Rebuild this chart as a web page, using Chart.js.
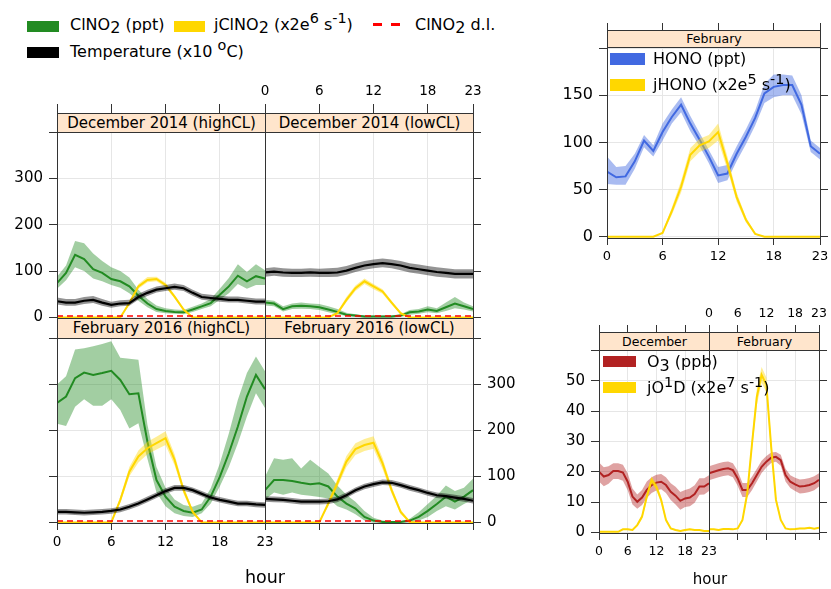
<!DOCTYPE html>
<html>
<head>
<meta charset="utf-8">
<title>ClNO2, HONO and O3 diurnal profiles</title>
<script src="https://cdn.jsdelivr.net/npm/chart.js@4.4.1/dist/chart.umd.min.js"></script>
<style>
html,body{margin:0;padding:0;background:#fff;}
#stage{position:relative;width:831px;height:589px;overflow:hidden;font-family:"DejaVu Sans",sans-serif;color:#000;}
#stage canvas{position:absolute;}
.strip{position:absolute;box-sizing:border-box;background:#ffe5cc;border:1px solid #333;text-align:center;white-space:nowrap;z-index:5;overflow:hidden;}
.sw{position:absolute;z-index:6;}
.lt{position:absolute;z-index:6;white-space:nowrap;line-height:1;font-size:16px;}
.sb{position:relative;top:0.22em;}
.sp{position:relative;top:-0.42em;font-size:90%;}
.ax{position:absolute;z-index:6;white-space:nowrap;line-height:1;transform:translateX(-50%);}
</style>
</head>
<body>
<div id="stage">
  <!-- top legend -->
  <div class="sw" style="left:27px;top:21px;width:32px;height:11px;background:#228B22"></div>
  <div class="lt" style="left:70px;top:16.5px">ClNO<span class="sb">2</span> (ppt)</div>
  <div class="sw" style="left:174px;top:21px;width:31px;height:11px;background:#FFD700"></div>
  <div class="lt" style="left:214px;top:16.5px">jClNO<span class="sb">2</span> (x2e<span class="sp">6</span> s<span class="sp">-1</span>)</div>
  <div class="sw" style="left:373px;top:23px;width:9px;height:3px;background:#FF0000"></div>
  <div class="sw" style="left:391px;top:23px;width:9px;height:3px;background:#FF0000"></div>
  <div class="lt" style="left:415px;top:16.5px">ClNO<span class="sb">2</span> d.l.</div>
  <div class="sw" style="left:27px;top:47px;width:32px;height:11px;background:#000"></div>
  <div class="lt" style="left:70px;top:43.5px">Temperature (x10 <span class="sp">o</span>C)</div>

  <!-- HONO legend -->
  <div class="sw" style="left:610px;top:53px;width:35px;height:12px;background:#4169E1"></div>
  <div class="lt" style="left:653px;top:51px">HONO (ppt)</div>
  <div class="sw" style="left:610px;top:79px;width:35px;height:12px;background:#FFD700"></div>
  <div class="lt" style="left:653px;top:77px">jHONO (x2e<span class="sp">5</span> s<span class="sp">-1</span>)</div>

  <!-- O3 legend -->
  <div class="sw" style="left:603px;top:356px;width:33px;height:11px;background:#B22222"></div>
  <div class="lt" style="left:647px;top:354px">O<span class="sb">3</span> (ppb)</div>
  <div class="sw" style="left:603px;top:382px;width:33px;height:11px;background:#FFD700"></div>
  <div class="lt" style="left:647px;top:380px">jO<span class="sp">1</span>D (x2e<span class="sp">7</span> s<span class="sp">-1</span>)</div>

  <div class="ax" style="left:265px;top:569px;font-size:17.5px">hour</div>
  <div class="ax" style="left:710px;top:572px;font-size:15px">hour</div>
</div>
<script>
// ---------------- data ----------------
const hours = [0,1,2,3,4,5,6,7,8,9,10,11,12,13,14,15,16,17,18,19,20,21,22,23];
const hourTicks = [0,6,12,18,23];
const clno2Ticks = [0,100,200,300,400];
const honoTicks = [0,50,100,150,200];
const o3Ticks = [0,10,20,30,40,50,60];
const clno2DL = 3;
const panelNames = ['December 2014 (highCL)','December 2014 (lowCL)','February 2016 (highCL)','February 2016 (lowCL)'];
const monthNames = ['December','February'];

// December 2014 (highCL)
const decHighClno2   = [74,96,135,126,104,96,83,78,67,47,30,18,14,12,11,17,24,31,49,67,90,78,89,84];
const decHighClno2Hi = [88,112,165,160,138,122,108,100,86,60,40,26,20,17,16,23,30,40,62,85,115,98,115,102];
const decHighClno2Lo = [62,80,108,100,84,78,70,64,52,36,22,12,9,8,7,12,18,24,38,52,72,62,70,70];
const decHighJ   = [0,0,0,0,0,0,0,0,31,67,81,83,70,45,17,0,0,0,0,0,0,0,0,0];
const decHighJHi = [0,0,0,0,0,0,0,1,35,72,87,88,75,49,20,1,0,0,0,0,0,0,0,0];
const decHighJLo = [0,0,0,0,0,0,0,0,27,62,76,78,65,41,14,0,0,0,0,0,0,0,0,0];
const decHighT   = [35,32,32,36,38,32,27,30,31,44,53,60,63,66,63,53,44,42,40,38,38,36,34,34];
const decHighTHi = [43,40,40,44,46,40,34,37,38,51,60,67,70,73,70,60,51,49,47,45,45,43,41,41];
const decHighTLo = [28,25,25,29,31,25,21,24,25,38,46,54,57,60,57,47,38,36,34,32,32,30,28,28];

// December 2014 (lowCL)
const decLowClno2   = [32,30,18,24,25,24,22,17,12,6,4,2,2,2,2,4,11,13,17,14,22,30,24,18];
const decLowClno2Hi = [38,36,24,30,32,30,29,24,18,10,7,4,4,4,4,7,16,18,24,20,32,44,32,24];
const decLowClno2Lo = [26,24,13,18,19,18,16,11,7,3,1,0,0,0,0,1,6,8,11,9,14,20,17,13];
const decLowJ   = [0,0,0,0,0,0,0,0,9,38,63,78,67,56,32,9,0,0,0,0,0,0,0,0];
const decLowJHi = [0,0,0,0,0,0,0,1,12,44,69,84,72,61,36,12,1,0,0,0,0,0,0,0];
const decLowJLo = [0,0,0,0,0,0,0,0,6,33,57,72,61,51,28,6,0,0,0,0,0,0,0,0];
const decLowT   = [97,99,97,96,96,97,96,96,97,101,107,112,115,117,115,112,107,104,101,98,96,94,94,94];
const decLowTHi = [106,108,106,105,105,106,105,106,107,111,117,122,125,127,125,122,117,114,111,108,106,104,104,104];
const decLowTLo = [88,90,88,87,87,88,87,87,88,92,98,103,106,108,106,102,97,94,91,88,86,84,84,84];

// February 2016 (highCL)
const febHighClno2   = [259,273,313,325,320,324,329,309,278,280,175,92,56,34,25,21,28,56,99,150,208,273,320,289];
const febHighClno2Hi = [299,317,375,378,382,387,393,357,355,353,212,120,75,50,38,34,41,74,128,193,266,324,360,328];
const febHighClno2Lo = [214,209,251,267,253,253,267,244,204,215,138,65,35,20,14,12,20,41,78,120,172,230,280,248];
const febHighJ   = [0,0,0,0,0,0,0,49,110,143,161,172,183,136,70,23,0,0,0,0,0,0,0,0];
const febHighJHi = [0,0,0,0,0,0,1,56,120,156,175,186,198,148,78,28,1,0,0,0,0,0,0,0];
const febHighJLo = [0,0,0,0,0,0,0,42,100,130,148,158,168,124,62,18,0,0,0,0,0,0,0,0];
const febHighT   = [23,23,22,21,22,23,25,28,34,41,50,59,68,75,75,70,62,54,49,45,41,41,39,38];
const febHighTHi = [29,29,28,27,28,29,31,34,40,47,56,65,74,81,81,76,68,60,55,51,47,47,45,44];
const febHighTLo = [17,17,16,15,16,17,19,22,28,35,44,53,62,69,69,64,56,48,43,39,35,35,33,32];

// February 2016 (lowCL)
const febLowClno2   = [70,92,92,90,86,83,85,78,56,41,30,12,4,1,1,1,4,12,25,40,56,45,56,70];
const febLowClno2Hi = [99,139,136,139,117,136,121,106,80,60,45,25,10,4,3,3,8,22,40,58,80,68,75,95];
const febLowClno2Lo = [50,65,60,65,60,58,55,52,35,28,18,4,0,0,0,0,0,4,12,25,35,28,40,50];
const febLowJ   = [0,0,0,0,0,0,0,41,85,132,159,168,173,128,70,23,1,0,0,0,0,0,0,0];
const febLowJHi = [0,0,0,0,0,0,1,47,94,144,172,181,187,140,78,28,2,0,0,0,0,0,0,0];
const febLowJLo = [0,0,0,0,0,0,0,35,76,120,146,155,160,116,62,18,0,0,0,0,0,0,0,0];
const febLowT   = [51,50,49,47,45,45,45,46,50,59,70,78,83,87,86,81,75,70,64,59,57,54,51,47];
const febLowTHi = [57,56,55,53,51,51,51,52,56,65,76,84,89,93,92,87,81,76,70,65,63,60,57,53];
const febLowTLo = [45,44,43,41,39,39,39,40,44,53,64,72,77,81,80,75,69,64,58,53,51,48,45,41];

// HONO, February
const hono   = [69,63,64,80,102,91,111,127,140,120,103,85,65,67,88,106,126,152,159,161,161,140,96,88];
const honoHi = [85,74,75,88,108,97,120,135,148,128,110,92,74,76,96,114,134,162,172,172,171,150,102,94];
const honoLo = [56,55,55,72,95,85,102,120,132,112,96,78,57,60,80,98,118,142,148,150,150,130,90,82];
const jHono   = [0,0,0,0,0,0,4,27,53,87,97,101,111,78,42,18,3,0,0,0,0,0,0,0];
const jHonoHi = [0,0,0,0,0,0,5,31,59,94,104,108,120,85,47,21,4,0,0,0,0,0,0,0];
const jHonoLo = [0,0,0,0,0,0,3,23,47,80,90,94,102,71,37,15,2,0,0,0,0,0,0,0];

// O3 and jO1D
const o3Dec   = [20,18.4,18.9,20.2,20.2,19.7,16.7,11.8,10.1,11.5,14,15.6,16.4,16.7,15.6,13.4,12.1,10.4,11.2,11.5,12.6,15.1,15.1,16.2];
const o3DecHi = [23,21.5,21.8,22.8,22.8,22.3,19.5,14.5,12.5,14,16.8,18.2,19,19.2,18.2,16.2,15,13.3,14,14.5,15.5,17.8,17.8,18.8];
const o3DecLo = [16.8,15.2,16,17.6,17.6,17,13.9,9.2,7.8,9,11.3,13,13.8,14.2,13,10.7,9.2,7.5,8.4,8.6,9.8,12.4,12.5,13.6];
const jo1dDec   = [0.2,0.2,0.2,0.2,0.2,1,1,0.8,2.4,5.2,11.8,17.3,15,10.7,4.1,1.3,0.8,0.5,0.8,1,0.8,0.8,0.5,0.5];
const jo1dDecHi = [0.3,0.3,0.3,0.3,0.3,1.2,1.2,1,2.8,6,13,18.5,16.2,11.8,4.8,1.6,1,0.7,1,1.2,1,1,0.7,0.7];
const jo1dDecLo = [0.1,0.1,0.1,0.1,0.1,0.8,0.8,0.6,2,4.4,10.6,16.1,13.8,9.6,3.4,1,0.6,0.3,0.6,0.8,0.6,0.6,0.3,0.3];
const o3Feb   = [19.5,20,20.5,20.9,21.1,20.5,17.8,14,14,16.2,18.9,21.6,23.3,24.6,24.9,23.8,18.9,16.7,15.8,15.1,15.3,15.6,16.2,17.3];
const o3FebHi = [21.8,22.3,22.8,23.2,23.4,22.8,20.2,16.3,16.3,18.4,21,23.6,25.2,26.3,26.5,25.6,21,18.8,18,17.4,17.6,17.9,18.5,19.5];
const o3FebLo = [17.2,17.7,18.2,18.6,18.8,18.2,15.4,11.7,11.7,14,16.8,19.6,21.4,22.9,23.3,22,16.8,14.6,13.6,12.8,13,13.3,13.9,15.1];
const jo1dFeb   = [1,1,0.8,1.1,1.1,1,1.3,4.1,12.9,29.3,44.7,51.9,48.6,28.2,10.7,4.1,1.3,1,1.1,1.3,1.3,1.5,1.2,1.5];
const jo1dFebHi = [1.2,1.2,1,1.3,1.3,1.2,1.5,4.6,14.2,31.5,47.5,54.5,51,30.5,11.8,4.6,1.5,1.2,1.3,1.5,1.5,1.7,1.4,1.7];
const jo1dFebLo = [0.8,0.8,0.6,0.9,0.9,0.8,1.1,3.6,11.6,27.1,41.9,49.3,46.2,25.9,9.6,3.6,1.1,0.8,0.9,1.1,1.1,1.3,1,1.3];

// ---------------- styling ----------------
const FONT = 'DejaVu Sans';
const AX = '#333333';
const GRID = '#e6e6e6';
const COL = {
  green:'#228B22', greenBand:'rgba(34,139,34,0.42)',
  gold:'#FFD700', goldBand:'rgba(255,215,0,0.42)',
  black:'#000000', greyBand:'rgba(0,0,0,0.42)',
  red:'#FF0000',
  blue:'#4169E1', blueBand:'rgba(65,105,225,0.45)',
  fire:'#B22222', fireBand:'rgba(178,34,34,0.42)'
};
const M = {l:60, r:60, t:60, b:40};
const stage = document.getElementById('stage');

function pts(arr){ return arr.map((v,i)=>({x:hours[i], y:v})); }
function series(mean, lo, hi, line, band, lw){
  return [
    {data:pts(hi), borderColor:'rgba(0,0,0,0)', borderWidth:0, pointRadius:0, backgroundColor:band, fill:'+1'},
    {data:pts(lo), borderColor:'rgba(0,0,0,0)', borderWidth:0, pointRadius:0, fill:false},
    {data:pts(mean), borderColor:line, borderWidth:lw, pointRadius:0, fill:false}
  ];
}
function dlLine(){
  return [{data:[{x:hours[0], y:clno2DL},{x:hours[23], y:clno2DL}], borderColor:COL.red, borderWidth:1.6, borderDash:[6,4], pointRadius:0, fill:false}];
}

function xAxis(pos, mode, font, tickLen, size, gridOn){
  return {
    type:'linear', position:pos, min:0, max:23,
    afterBuildTicks:s=>{ s.ticks = hourTicks.map(v=>({value:v})); },
    afterFit:s=>{ s.height = size; },
    ticks:{display:mode==='lab', autoSkip:false, maxRotation:0, minRotation:0, padding:4, color:'#000', font:{family:FONT, size:font}},
    grid:{display:true, drawOnChartArea:gridOn, color:GRID, lineWidth:1, drawTicks:mode!=='none', tickLength:tickLen, tickColor:AX, tickWidth:1},
    border:{display:true, color:AX, width:1, z:1}
  };
}
function yAxis(pos, mode, o, size, gridOn){
  const top = o.yTicks[o.yTicks.length-1];
  return {
    type:'linear', position:pos, min:o.ymin, max:o.ymax,
    afterBuildTicks:s=>{ s.ticks = o.yTicks.map(v=>({value:v})); },
    afterFit:s=>{ s.width = size; },
    ticks:{display:mode==='lab', autoSkip:false, padding:6, color:'#000', font:{family:FONT, size:o.yFont},
      callback:v=> v===top ? '' : String(v)},
    grid:{display:true, drawOnChartArea:gridOn, color:GRID, lineWidth:1, drawTicks:mode!=='none', tickLength:8, tickColor:AX, tickWidth:1},
    border:{display:true, color:AX, width:1, z:1}
  };
}

function panel(o){
  const cv = document.createElement('canvas');
  const W = o.w + M.l + M.r, H = o.h + M.t + M.b;
  cv.width = W; cv.height = H;
  Object.assign(cv.style, {left:(o.left-M.l)+'px', top:(o.top-M.t)+'px', width:W+'px', height:H+'px'});
  stage.appendChild(cv);
  const ds = o.datasets;
  ds.forEach((d,i)=>{ d.order = 1000-i; d.tension = 0; });
  new Chart(cv, {
    type:'line',
    data:{datasets:ds},
    options:{
      responsive:false, animation:false, devicePixelRatio:1, events:[],
      layout:{padding:0},
      plugins:{legend:{display:false}, tooltip:{enabled:false}, title:{display:false}},
      scales:{
        x: xAxis('bottom', o.xb, o.xFont, 7, M.b, true),
        x2: xAxis('top', o.xt, o.xFont, o.topTick, M.t, false),
        y: yAxis('left', o.yl, o, M.l, true),
        y2: yAxis('right', o.yr, o, M.r, false)
      }
    }
  });
  if (o.strip){
    const s = document.createElement('div');
    s.className = 'strip';
    Object.assign(s.style, {left:o.left+'px', top:(o.top-o.stripH)+'px', width:(o.w+1)+'px', height:(o.stripH+1)+'px',
      fontSize:o.stripFont+'px', lineHeight:(o.stripH-1)+'px'});
    s.textContent = o.strip;
    stage.appendChild(s);
  }
}

function clPanel(name, c, lo, hi, j, jlo, jhi, t, tlo, thi){
  return [].concat(
    series(c, lo, hi, COL.green, COL.greenBand, 2),
    series(j, jlo, jhi, COL.gold, COL.goldBand, 2),
    series(t, tlo, thi, COL.black, COL.greyBand, 2.2),
    dlLine()
  );
}

const clBase = {ymin:-1.2, ymax:400, yTicks:clno2Ticks, yFont:15, xFont:13.5, stripFont:15};

panel(Object.assign({}, clBase, {left:57, top:132, w:208, h:186, xb:'none', xt:'tick', yl:'lab', yr:'none', topTick:28, strip:panelNames[0], stripH:19,
  datasets: clPanel(0, decHighClno2, decHighClno2Lo, decHighClno2Hi, decHighJ, decHighJLo, decHighJHi, decHighT, decHighTLo, decHighTHi)}));
panel(Object.assign({}, clBase, {left:265, top:132, w:208, h:186, xb:'none', xt:'lab', yl:'none', yr:'tick', topTick:28, strip:panelNames[1], stripH:19,
  datasets: clPanel(1, decLowClno2, decLowClno2Lo, decLowClno2Hi, decLowJ, decLowJLo, decLowJHi, decLowT, decLowTLo, decLowTHi)}));
panel(Object.assign({}, clBase, {left:57, top:338, w:208, h:185, xb:'lab', xt:'none', yl:'tick', yr:'none', topTick:0, strip:panelNames[2], stripH:20,
  datasets: clPanel(2, febHighClno2, febHighClno2Lo, febHighClno2Hi, febHighJ, febHighJLo, febHighJHi, febHighT, febHighTLo, febHighTHi)}));
panel(Object.assign({}, clBase, {left:265, top:338, w:208, h:185, xb:'tick', xt:'none', yl:'none', yr:'lab', topTick:0, strip:panelNames[3], stripH:20,
  datasets: clPanel(3, febLowClno2, febLowClno2Lo, febLowClno2Hi, febLowJ, febLowJLo, febLowJHi, febLowT, febLowTLo, febLowTHi)}));

// HONO panel
panel({left:607, top:47, w:213, h:191, ymin:-1.4, ymax:201.3, yTicks:honoTicks, yFont:16, xFont:13, xb:'lab', xt:'tick', yl:'lab', yr:'tick', topTick:24,
  strip:monthNames[1], stripH:17, stripFont:12.5,
  datasets:[].concat(series(hono, honoLo, honoHi, COL.blue, COL.blueBand, 2), series(jHono, jHonoLo, jHonoHi, COL.gold, COL.goldBand, 2))});

// O3 panels
const o3Base = {ymin:-0.2, ymax:60.1, yTicks:o3Ticks, yFont:15, xFont:12.5, stripH:18, stripFont:12.5, topTick:25};
panel(Object.assign({}, o3Base, {left:599, top:350, w:110, h:183, xb:'lab', xt:'tick', yl:'lab', yr:'none', strip:monthNames[0],
  datasets:[].concat(series(o3Dec, o3DecLo, o3DecHi, COL.fire, COL.fireBand, 2), series(jo1dDec, jo1dDecLo, jo1dDecHi, COL.gold, COL.goldBand, 2))}));
panel(Object.assign({}, o3Base, {left:709, top:350, w:110, h:183, xb:'tick', xt:'lab', yl:'none', yr:'tick', strip:monthNames[1],
  datasets:[].concat(series(o3Feb, o3FebLo, o3FebHi, COL.fire, COL.fireBand, 2), series(jo1dFeb, jo1dFebLo, jo1dFebHi, COL.gold, COL.goldBand, 2))}));
</script>
</body>
</html>
